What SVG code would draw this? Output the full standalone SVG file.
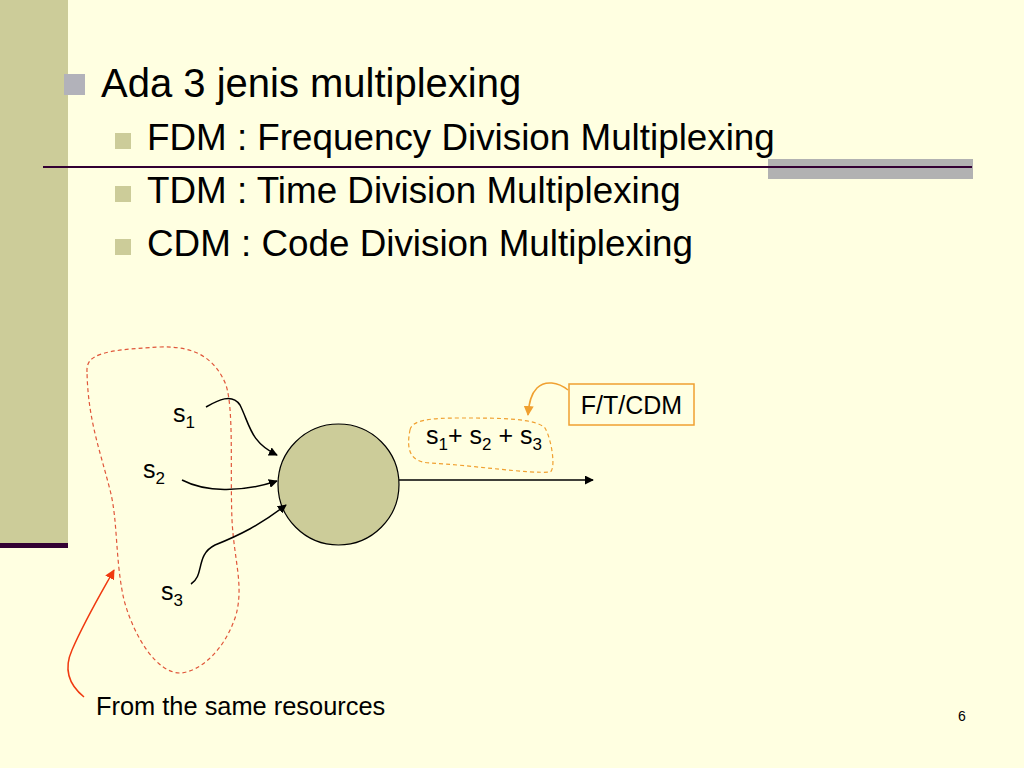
<svg xmlns="http://www.w3.org/2000/svg" width="1024" height="768" viewBox="0 0 1024 768">
<defs>
<style>
text{font-family:"Liberation Sans",Arial,sans-serif;fill:#000}
.conn{fill:none;stroke:#000;stroke-width:1.5}
.blob{fill:none;stroke-width:1.2;stroke-dasharray:4 3}
.sub{font-size:36.8px}
.lbl{font-size:25px}
</style>
<marker id="ab" viewBox="0 0 10 10" refX="9" refY="5" markerWidth="9" markerHeight="9" markerUnits="userSpaceOnUse" orient="auto"><path d="M0,0 L10,5 L0,10 Z" fill="#000"/></marker>
<marker id="ar" viewBox="0 0 10 10" refX="9" refY="5" markerWidth="10" markerHeight="10" markerUnits="userSpaceOnUse" orient="auto"><path d="M0,0 L10,5 L0,10 Z" fill="#F03A10"/></marker>
<marker id="ao" viewBox="0 0 10 10" refX="9" refY="5" markerWidth="10" markerHeight="10" markerUnits="userSpaceOnUse" orient="auto"><path d="M0,0 L10,5 L0,10 Z" fill="#F0A030"/></marker>
</defs>
<rect width="1024" height="768" fill="#FFFFE1"/>
<rect x="0" y="0" width="68" height="543" fill="#CCCC99"/>
<rect x="0" y="543" width="68" height="5" fill="#330033"/>
<rect x="768" y="159" width="205" height="20" fill="#B2B2B2"/>
<line x1="43" y1="167" x2="972" y2="167" stroke="#330033" stroke-width="2"/>

<g id="bullets">
<rect x="64" y="74" width="21" height="21" fill="#B2B2BA"/>
<text x="101" y="97" font-size="40">Ada 3 jenis multiplexing</text>
<rect x="115" y="133" width="16" height="16" fill="#CCCC99"/>
<text x="147" y="150" class="sub">FDM : Frequency Division Multiplexing</text>
<rect x="115" y="186" width="16" height="16" fill="#CCCC99"/>
<text x="147" y="203" class="sub">TDM : Time Division Multiplexing</text>
<rect x="115" y="239" width="16" height="16" fill="#CCCC99"/>
<text x="147" y="256" class="sub">CDM : Code Division Multiplexing</text>
</g>

<g id="sources-group">
<path class="blob" stroke="#E0563A" d="M87,372 C86,355 100,350 160,347 C195,346 215,358 226,385 C234,410 230,470 232,520 C234,560 244,585 236,615 C225,650 200,672 180,673 C158,673 135,640 124,600 C115,560 118,520 110,490 C100,450 88,420 87,372 Z"/>
</g>

<g id="s1"><text x="173" y="422" class="lbl">s<tspan font-size="17" dy="6">1</tspan></text></g>
<g id="s2"><text x="143" y="478" class="lbl">s<tspan font-size="17" dy="6">2</tspan></text></g>
<g id="s3"><text x="161" y="600" class="lbl">s<tspan font-size="17" dy="6">3</tspan></text></g>

<g id="mux">
<circle cx="338.5" cy="484.5" r="60.5" fill="#CCCC99" stroke="#000" stroke-width="1.2"/>
</g>

<g id="sum">
<path class="blob" stroke="#F0A030" d="M410,430 C412,420 430,418 460,418 C500,418 535,418 545,428 C552,440 556,470 550,472 C530,474 470,465 430,463 C410,462 406,450 410,430 Z"/>
<text x="426" y="444" class="lbl">s<tspan font-size="17" dy="6">1</tspan><tspan dy="-6">+ s</tspan><tspan font-size="17" dy="6">2</tspan><tspan dy="-6"> + s</tspan><tspan font-size="17" dy="6">3</tspan></text>
</g>

<g id="ftcdm">
<rect x="569" y="384" width="125" height="41" fill="#FFFFE1" stroke="#F0A030" stroke-width="1.5"/>
<text x="631.5" y="414" class="lbl" text-anchor="middle">F/T/CDM</text>
</g>

<g id="note">
<text x="96" y="715" font-size="25.4">From the same resources</text>
</g>

<text x="958" y="721" font-size="14">6</text>

<g id="connectors">
<path class="conn" marker-end="url(#ab)" d="M206,407 C218,400 232,393 240,405 C250,425 250,442 277,455"/>
<path class="conn" marker-end="url(#ab)" d="M182,480 C205,492 240,493 277,481"/>
<path class="conn" marker-end="url(#ab)" d="M191,584 C205,575 195,555 215,545 C240,535 260,525 286,505"/>
<path class="conn" marker-end="url(#ab)" d="M399,480 L593,480"/>
<path fill="none" stroke="#F03A10" stroke-width="1.5" marker-end="url(#ar)" d="M84,697 C68,684 64,668 72,650 C85,620 100,595 114,570"/>
<path fill="none" stroke="#F0A030" stroke-width="1.5" marker-end="url(#ao)" d="M568,390 C558,382 545,380 537,388 C531,394 529,402 528,415"/>
</g>
</svg>
